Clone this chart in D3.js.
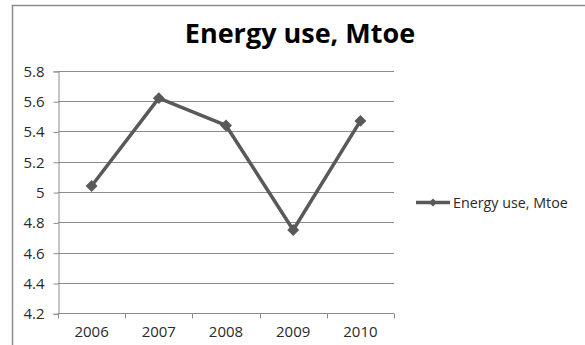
<!DOCTYPE html>
<html>
<head>
<meta charset="utf-8">
<script src="https://cdn.jsdelivr.net/npm/d3@7"></script>
<style>
  body { margin: 0; background: #fff; }
  svg { display: block; font-family: "Open Sans", sans-serif; }
</style>
</head>
<body>
<svg id="chart"></svg>
<script>
const years = ["2006", "2007", "2008", "2009", "2010"];
const energyUse = [5.04, 5.62, 5.44, 4.75, 5.47];
const yTicks = [4.2, 4.4, 4.6, 4.8, 5, 5.2, 5.4, 5.6, 5.8];
const seriesName = "Energy use, Mtoe";

const width = 585, height = 345;
const svg = d3.select("#chart").attr("width", width).attr("height", height);

// outer chart frame (top + left only visible)
svg.append("path")
  .attr("d", "M12.5,345 V5.5 H585")
  .attr("fill", "none")
  .attr("stroke", "#8c8c8c")
  .attr("stroke-width", 1.5);

svg.append("text")
  .attr("x", 300).attr("y", 43)
  .attr("text-anchor", "middle")
  .attr("font-size", 27).attr("font-weight", "bold")
  .attr("fill", "#000")
  .text(seriesName);

const x = d3.scaleBand().domain(years).range([58, 394]);
const y = d3.scaleLinear().domain([4.2, 5.8]).range([313.3, 70.9]);

// gridlines
svg.append("g").selectAll("line")
  .data(yTicks).enter()
  .append("line")
  .attr("x1", 58).attr("x2", 394)
  .attr("y1", d => Math.round(y(d)) + 0.5)
  .attr("y2", d => Math.round(y(d)) + 0.5)
  .attr("stroke", "#8c8c8c");

const yAxis = d3.axisLeft(y).tickValues(yTicks).tickFormat(d => String(d)).tickSize(5).tickPadding(9);
svg.append("g")
  .attr("transform", "translate(58.5,0.5)")
  .call(yAxis)
  .call(g => g.select(".domain").attr("stroke", "#8c8c8c"))
  .call(g => g.selectAll(".tick line").attr("stroke", "#8c8c8c"))
  .call(g => g.selectAll("text").attr("font-size", 15).attr("fill", "#2a2a2a").attr("font-family", "Open Sans"));

// x axis with tick marks at band boundaries
const xAxisG = svg.append("g").attr("transform", "translate(0," + (Math.round(y(4.2)) + 0.5) + ")");
xAxisG.append("line").attr("x1", 58).attr("x2", 394).attr("stroke", "#8c8c8c");
const bounds = years.map(d => x(d)).concat([x.range()[1]]);
xAxisG.selectAll(".xt").data(bounds).enter()
  .append("line").attr("class", "xt")
  .attr("x1", d => Math.round(d) + 0.5).attr("x2", d => Math.round(d) + 0.5)
  .attr("y1", 0).attr("y2", 5)
  .attr("stroke", "#8c8c8c");
xAxisG.selectAll(".xl").data(years).enter()
  .append("text").attr("class", "xl")
  .attr("x", d => x(d) + x.bandwidth() / 2)
  .attr("y", 23)
  .attr("text-anchor", "middle")
  .attr("font-size", 15).attr("fill", "#2a2a2a")
  .text(d => d);

const line = d3.line()
  .x((d, i) => x(years[i]) + x.bandwidth() / 2)
  .y(d => y(d));

svg.append("path")
  .datum(energyUse)
  .attr("d", line)
  .attr("fill", "none")
  .attr("stroke", "#595959")
  .attr("stroke-width", 3.5)
  .attr("stroke-linejoin", "round");

const diamond = d3.symbol().type(d3.symbolDiamond2).size(90);
svg.selectAll(".pt").data(energyUse).enter()
  .append("path").attr("class", "pt")
  .attr("transform", (d, i) => "translate(" + (x(years[i]) + x.bandwidth() / 2) + "," + y(d) + ")")
  .attr("d", diamond)
  .attr("fill", "#595959");

// legend
const lg = svg.append("g").attr("transform", "translate(416,202.5)");
lg.append("line").attr("x1", 0).attr("x2", 34).attr("stroke", "#595959").attr("stroke-width", 3.5);
lg.append("path").attr("transform", "translate(17,0)")
  .attr("d", d3.symbol().type(d3.symbolDiamond2).size(40))
  .attr("fill", "#595959");
lg.append("text").attr("x", 37).attr("y", 5)
  .attr("font-size", 14.3).attr("fill", "#2a2a2a")
  .text(seriesName);
</script>
</body>
</html>
